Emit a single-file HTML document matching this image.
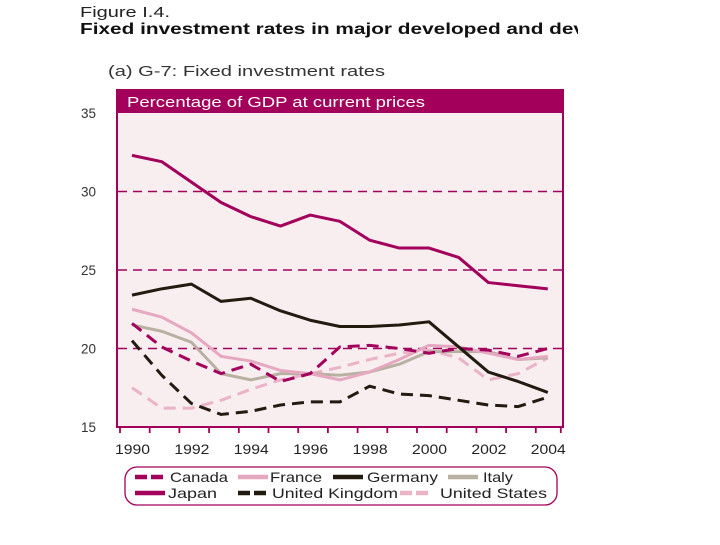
<!DOCTYPE html>
<html><head><meta charset="utf-8"><style>
body{margin:0;width:720px;height:540px;background:#fff;overflow:hidden;font-family:"Liberation Sans",sans-serif}
</style></head><body>
<svg width="720" height="540" xmlns="http://www.w3.org/2000/svg" font-family="Liberation Sans, sans-serif">
<defs><clipPath id="tc"><rect x="0" y="0" width="578" height="40"/></clipPath></defs>
<text x="80" y="17" font-size="15" fill="#222" textLength="90" lengthAdjust="spacingAndGlyphs">Figure I.4.</text>
<g clip-path="url(#tc)"><text x="80" y="34" font-size="16" font-weight="bold" fill="#111" textLength="505" lengthAdjust="spacingAndGlyphs">Fixed investment rates in major developed and dev</text></g>
<text x="108" y="76" font-size="15" fill="#333" textLength="277" lengthAdjust="spacingAndGlyphs">(a) G-7: Fixed investment rates</text>
<rect x="117" y="90" width="446" height="337" fill="#f8eef0" stroke="#a3005c" stroke-width="2"/>
<rect x="117" y="90" width="446" height="23" fill="#a3005c"/>
<text x="127" y="107" font-size="14.5" fill="#fff" textLength="298" lengthAdjust="spacingAndGlyphs">Percentage of GDP at current prices</text>
<g id="grid"></g><g id="axes"></g><g id="series"></g>
<rect x="125" y="467" width="432" height="38" rx="12" fill="none" stroke="#a3005c" stroke-width="1.3"/>
<g id="legend"></g>
</svg>
<script>
const years=[1990,1991,1992,1993,1994,1995,1996,1997,1998,1999,2000,2001,2002,2003,2004];
const yTicks=[15,20,25,30,35];
const xTicks=[1990,1992,1994,1996,1998,2000,2002,2004];
const japan=[32.3,31.9,30.6,29.3,28.4,27.8,28.5,28.1,26.9,26.4,26.4,25.8,24.2,24.0,23.8];
const germany=[23.4,23.8,24.1,23.0,23.2,22.4,21.8,21.4,21.4,21.5,21.7,20.1,18.5,17.9,17.2];
const france=[22.5,22.0,21.0,19.5,19.2,18.6,18.4,18.0,18.5,19.3,20.2,20.1,19.7,19.3,19.5];
const italy=[21.5,21.1,20.4,18.4,18.0,18.4,18.4,18.3,18.5,19.0,19.8,19.8,19.8,19.3,19.4];
const canada=[21.6,20.1,19.2,18.4,19.0,17.9,18.4,20.1,20.2,20.0,19.7,20.0,19.9,19.5,20.0];
const uk=[20.5,18.3,16.5,15.8,16.0,16.4,16.6,16.6,17.6,17.1,17.0,16.7,16.4,16.3,16.9];
const us=[17.5,16.2,16.2,16.7,17.4,18.0,18.4,18.8,19.3,19.7,19.9,19.4,18.0,18.4,19.4];
const NS='http://www.w3.org/2000/svg';
const X=y=>132+(y-1990)*29.7;
const Y=v=>427-(v-15)*15.7;
function mk(t,a,p){const e=document.createElementNS(NS,t);for(const k in a)e.setAttribute(k,a[k]);p.appendChild(e);return e;}
const grid=document.getElementById('grid'),axes=document.getElementById('axes'),ser=document.getElementById('series'),leg=document.getElementById('legend');
yTicks.forEach(v=>{
  if(v>15&&v<35){const l=mk('line',{x1:118,x2:562,y1:Y(v),y2:Y(v),stroke:'#a3005c','stroke-width':1.6,'stroke-dasharray':'9,6'},grid);
  
  }
  const t=mk('text',{x:81,y:Y(v)+5,'font-size':13.5,fill:'#333',textLength:15,lengthAdjust:'spacingAndGlyphs'},axes);t.textContent=v;
  
  
});
years.forEach(yr=>{const l=mk('line',{x1:X(yr)-12,x2:X(yr)-12,y1:427,y2:433,stroke:'#a3005c','stroke-width':1.8},axes);
  
  });
mk('line',{x1:X(2004)+13,x2:X(2004)+13,y1:427,y2:433,stroke:'#a3005c','stroke-width':1.8},axes);
xTicks.forEach(yr=>{const t=mk('text',{x:X(yr)-17,y:454,'font-size':13.5,fill:'#222',textLength:35,lengthAdjust:'spacingAndGlyphs'},axes);t.textContent=yr;
  
  });
const S=[
 {n:'us',d:us,c:'#eab3c8',dash:'12,7',l:'United States'},
 {n:'uk',d:uk,c:'#231a10',dash:'12,7',l:'United Kingdom'},
 {n:'italy',d:italy,c:'#b8b1a2',dash:'',l:'Italy'},
 {n:'france',d:france,c:'#e6a8c0',dash:'',l:'France'},
 {n:'canada',d:canada,c:'#a3005c',dash:'12,7',l:'Canada'},
 {n:'germany',d:germany,c:'#231a10',dash:'',l:'Germany'},
 {n:'japan',d:japan,c:'#a3005c',dash:'',l:'Japan'}];
S.forEach(s=>{const p=mk('polyline',{points:s.d.map((v,i)=>X(years[i])+','+Y(v)).join(' '),fill:'none',stroke:s.c,'stroke-width':3,'stroke-dasharray':s.dash,'stroke-linejoin':'round'},ser);
  
  });
const L=[['canada',135,170,58,482],['france',238,270,52,482],['germany',333,367,71,482],['italy',448,483,30,482],
         ['japan',135,168,49,498],['uk',238,272,126,498],['us',400,440,107,498]];
L.forEach(([n,lx,tx,tw,y])=>{const s=S.find(q=>q.n===n);const g=mk('g',{},leg);
  
  
  mk('line',{x1:lx,x2:lx+30,y1:y-5,y2:y-5,stroke:s.c,'stroke-width':4.5,'stroke-dasharray':s.dash?'12,4':''},g);
  const t=mk('text',{x:tx,y:y,'font-size':14,fill:'#222',textLength:tw,lengthAdjust:'spacingAndGlyphs'},g);t.textContent=s.l;});
</script>
</body></html>
